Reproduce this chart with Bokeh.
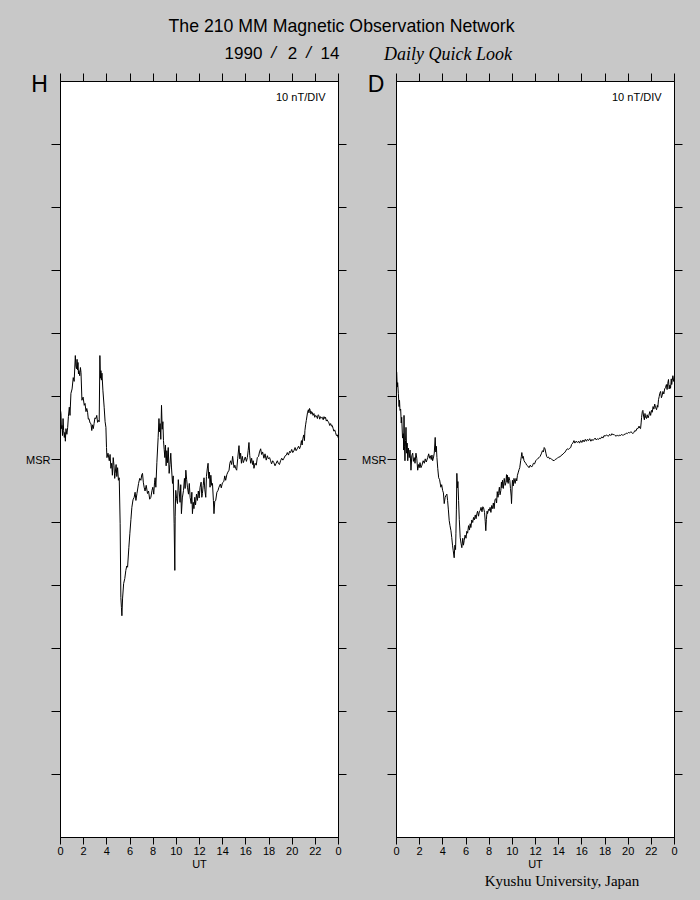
from bokeh.plotting import figure
from bokeh.models import Range1d, LinearAxis, FixedTicker, Label
from bokeh.layouts import column, row
from bokeh.embed import file_html
from bokeh.resources import INLINE

# ---- data (UT hours, nT relative to MSR) ----
H_UT = [0.00, 0.04, 0.08, 0.13, 0.17, 0.22, 0.27, 0.33, 0.38, 0.42, 0.47, 0.55, 0.62, 0.68, 0.76,
        0.82, 0.90, 1.00, 1.10, 1.18, 1.28, 1.33, 1.38, 1.43, 1.47, 1.51, 1.55, 1.59, 1.66, 1.72,
        1.77, 1.85, 1.95, 2.05, 2.12, 2.20, 2.27, 2.34, 2.40, 2.46, 2.55, 2.63, 2.70, 2.76, 2.83,
        2.90, 2.97, 3.06, 3.13, 3.20, 3.29, 3.34, 3.40, 3.45, 3.49, 3.53, 3.58, 3.66, 3.77, 3.85,
        3.92, 3.97, 4.01, 4.10, 4.21, 4.28, 4.35, 4.42, 4.48, 4.55, 4.62, 4.68, 4.72, 4.80, 4.86,
        4.93, 5.00, 5.07, 5.15, 5.21, 5.26, 5.30, 5.36, 5.45, 5.55, 5.64, 5.72, 5.79, 5.90, 5.99,
        6.08, 6.16, 6.26, 6.36, 6.44, 6.51, 6.60, 6.74, 6.84, 6.94, 7.02, 7.08, 7.15, 7.22, 7.30,
        7.40, 7.51, 7.60, 7.70, 7.80, 7.90, 7.97, 8.05, 8.12, 8.17, 8.23, 8.32, 8.43, 8.50, 8.55,
        8.60, 8.66, 8.72, 8.78, 8.84, 8.89, 8.95, 9.01, 9.06, 9.12, 9.18, 9.24, 9.30, 9.38, 9.45,
        9.52, 9.58, 9.67, 9.73, 9.81, 9.87, 9.90, 9.95, 10.02, 10.10, 10.17, 10.24, 10.32, 10.38, 10.44,
        10.52, 10.62, 10.70, 10.76, 10.82, 10.89, 10.96, 11.05, 11.12, 11.19, 11.28, 11.34, 11.39, 11.46, 11.52,
        11.59, 11.66, 11.74, 11.82, 11.90, 11.97, 12.05, 12.14, 12.20, 12.25, 12.32, 12.39, 12.46, 12.54, 12.60,
        12.67, 12.74, 12.80, 12.86, 12.91, 12.98, 13.05, 13.12, 13.20, 13.25, 13.32, 13.40, 13.50, 13.60, 13.68,
        13.80, 13.88, 13.98, 14.10, 14.18, 14.26, 14.36, 14.45, 14.55, 14.62, 14.69, 14.78, 14.86, 14.98, 15.05,
        15.12, 15.21, 15.30, 15.41, 15.48, 15.55, 15.62, 15.70, 15.78, 15.84, 15.95, 16.05, 16.13, 16.20, 16.27,
        16.34, 16.42, 16.50, 16.58, 16.64, 16.70, 16.80, 16.90, 16.99, 17.10, 17.18, 17.28, 17.36, 17.45, 17.56,
        17.66, 17.76, 17.86, 17.95, 18.05, 18.14, 18.22, 18.32, 18.42, 18.52, 18.62, 18.72, 18.80, 18.90, 19.00,
        19.10, 19.20, 19.29, 19.40, 19.50, 19.58, 19.68, 19.78, 19.86, 19.96, 20.05, 20.15, 20.25, 20.34, 20.44,
        20.55, 20.64, 20.73, 20.80, 20.86, 20.92, 21.00, 21.06, 21.10, 21.16, 21.22, 21.28, 21.33, 21.40, 21.45,
        21.50, 21.56, 21.62, 21.68, 21.73, 21.80, 21.88, 21.95, 22.02, 22.10, 22.18, 22.24, 22.30, 22.38, 22.45,
        22.52, 22.60, 22.68, 22.75, 22.82, 22.88, 22.95, 23.02, 23.10, 23.16, 23.24, 23.32, 23.40, 23.46, 23.54,
        23.60, 23.67, 23.74, 23.82, 23.90, 23.97, 24.00]
H_NT = [7.8, 7.3, 4.9, 5.4, 3.8, 6.5, 4.6, 3.5, 4.3, 2.9, 4.9, 4.0, 5.1, 6.8, 8.3,
        7.0, 10.5, 11.2, 13.0, 12.4, 16.5, 14.8, 14.4, 15.9, 14.2, 15.4, 13.6, 14.1, 13.3, 14.6,
        13.8, 9.4, 9.9, 8.6, 8.9, 7.6, 8.1, 7.5, 6.4, 6.5, 5.8, 5.7, 4.6, 5.5, 4.9,
        5.7, 6.6, 6.5, 7.0, 5.9, 6.2, 6.0, 16.5, 12.9, 14.1, 12.6, 13.7, 11.0, 8.3, 6.0,
        5.1, 1.9, 0.3, 1.0, -0.2, 0.8, -1.4, -0.6, -2.5, 0.3, -1.0, -3.0, -2.2, -0.8, -2.7,
        -1.3, -3.3, -2.9, -10.2, -21.9, -23.5, -24.8, -22.0, -19.7, -18.9, -17.6, -16.9, -17.1, -14.0, -11.7,
        -9.5, -7.6, -6.4, -6.0, -5.2, -6.5, -5.4, -3.8, -3.0, -3.3, -2.4, -2.2, -3.6, -4.4, -5.0,
        -4.1, -5.4, -5.0, -6.3, -6.0, -4.9, -4.4, -5.5, -3.6, -2.9, -4.4, -0.5, 3.5, 6.5, 4.4,
        5.7, 3.2, 8.6, 4.8, 6.0, 3.0, 1.6, 0.3, 2.3, -1.0, 1.4, -0.5, 1.9, -2.2, -0.8,
        1.0, -1.2, -3.8, -2.6, -10.2, -17.6, -9.0, -4.9, -6.2, -7.0, -3.2, -4.9, -6.8, -4.0, -8.6,
        -6.1, -4.9, -3.0, -4.6, -1.7, -3.2, -4.4, -5.5, -3.8, -6.0, -7.0, -5.2, -8.6, -6.8, -7.8,
        -6.0, -7.2, -5.5, -6.5, -5.0, -6.1, -4.4, -3.6, -6.0, -5.4, -4.1, -2.9, -4.8, -6.0, -2.7,
        -1.5, -0.6, -3.0, -2.0, -4.4, -2.5, -4.1, -3.8, -6.5, -8.6, -6.6, -6.5, -5.2, -4.9, -4.4,
        -3.9, -4.5, -3.7, -3.5, -2.6, -3.3, -2.4, -2.0, -1.7, -0.6, -0.2, -0.8, 0.5, -1.3, -0.9,
        -1.4, -1.7, 0.2, 2.2, 0.1, 1.0, -0.6, 0.5, -0.5, -0.2, 0.4, -0.3, 0.3, 1.4, 2.7,
        0.6, -0.6, 0.2, -0.8, -0.2, -1.4, -0.6, -0.9, 0.3, 0.5, 1.2, 1.7, 0.8, 1.2, 0.2,
        0.9, -0.1, 0.6, 0.1, 0.3, -0.2, -0.7, -0.2, -0.5, -1.0, -0.6, -0.2, -0.6, -0.8, -0.2,
        0.2, -0.1, 0.2, 0.6, 0.7, 1.1, 0.7, 1.3, 1.1, 1.6, 1.1, 1.4, 1.9, 1.4, 1.7,
        2.1, 1.7, 2.2, 3.0, 2.3, 3.3, 3.9, 3.0, 4.6, 5.5, 6.2, 6.9, 7.5, 7.9, 7.4,
        8.1, 7.8, 7.2, 7.6, 7.5, 7.0, 7.3, 6.7, 7.0, 6.9, 6.5, 7.1, 7.0, 6.4, 6.8,
        6.6, 6.7, 6.3, 6.8, 6.5, 6.7, 6.1, 6.3, 6.0, 5.9, 5.4, 5.7, 5.3, 5.4, 4.9,
        4.5, 4.7, 4.3, 3.8, 3.9, 3.5, 3.4]

D_UT = [0.00, 0.02, 0.06, 0.10, 0.16, 0.22, 0.26, 0.30, 0.36, 0.41, 0.45, 0.52, 0.59, 0.62, 0.65,
        0.69, 0.73, 0.78, 0.82, 0.88, 0.92, 0.97, 1.03, 1.10, 1.17, 1.25, 1.32, 1.40, 1.46, 1.53,
        1.60, 1.68, 1.75, 1.83, 1.90, 1.96, 2.03, 2.11, 2.20, 2.30, 2.40, 2.48, 2.57, 2.69, 2.78,
        2.85, 2.91, 3.00, 3.06, 3.12, 3.20, 3.26, 3.34, 3.39, 3.44, 3.49, 3.56, 3.64, 3.72, 3.83,
        3.90, 3.98, 4.05, 4.12, 4.20, 4.27, 4.35, 4.41, 4.48, 4.55, 4.62, 4.70, 4.77, 4.84, 4.90,
        4.98, 5.04, 5.10, 5.13, 5.17, 5.21, 5.26, 5.30, 5.36, 5.42, 5.50, 5.57, 5.64, 5.72, 5.78,
        5.84, 5.92, 6.00, 6.07, 6.14, 6.22, 6.30, 6.36, 6.42, 6.50, 6.58, 6.65, 6.72, 6.80, 6.87,
        6.94, 7.00, 7.08, 7.15, 7.22, 7.30, 7.38, 7.45, 7.51, 7.60, 7.66, 7.71, 7.76, 7.82, 7.86,
        7.95, 8.02, 8.08, 8.15, 8.22, 8.30, 8.36, 8.43, 8.50, 8.58, 8.64, 8.70, 8.76, 8.81, 8.88,
        8.94, 9.01, 9.06, 9.10, 9.15, 9.22, 9.30, 9.38, 9.44, 9.50, 9.55, 9.58, 9.64, 9.70, 9.78,
        9.84, 9.90, 9.93, 9.97, 10.01, 10.08, 10.14, 10.24, 10.32, 10.38, 10.44, 10.52, 10.58, 10.64, 10.72,
        10.78, 10.82, 10.88, 10.94, 11.01, 11.08, 11.16, 11.24, 11.32, 11.44, 11.55, 11.66, 11.74, 11.82, 11.92,
        12.02, 12.12, 12.22, 12.31, 12.40, 12.50, 12.60, 12.68, 12.75, 12.82, 12.90, 12.96, 13.03, 13.12, 13.22,
        13.31, 13.40, 13.50, 13.60, 13.70, 13.80, 13.89, 14.00, 14.10, 14.18, 14.28, 14.38, 14.46, 14.56, 14.66,
        14.75, 14.85, 14.95, 15.04, 15.12, 15.22, 15.32, 15.40, 15.50, 15.62, 15.72, 15.80, 15.90, 16.00, 16.10,
        16.20, 16.30, 16.40, 16.48, 16.58, 16.68, 16.78, 16.88, 16.96, 17.05, 17.15, 17.25, 17.35, 17.45, 17.55,
        17.62, 17.72, 17.82, 17.92, 18.02, 18.12, 18.20, 18.30, 18.40, 18.50, 18.60, 18.70, 18.77, 18.87, 18.97,
        19.07, 19.17, 19.27, 19.35, 19.45, 19.55, 19.65, 19.75, 19.85, 19.92, 20.02, 20.12, 20.22, 20.32, 20.40,
        20.49, 20.58, 20.66, 20.75, 20.84, 20.94, 21.00, 21.07, 21.12, 21.16, 21.22, 21.27, 21.33, 21.40, 21.45,
        21.50, 21.58, 21.64, 21.72, 21.79, 21.86, 21.94, 22.01, 22.08, 22.15, 22.22, 22.29, 22.36, 22.45, 22.52,
        22.56, 22.62, 22.68, 22.73, 22.80, 22.87, 22.94, 23.00, 23.08, 23.15, 23.22, 23.30, 23.36, 23.42, 23.48,
        23.54, 23.60, 23.66, 23.72, 23.76, 23.80, 23.86, 23.92, 23.97, 24.00]
D_NT = [14.0, 13.8, 11.5, 12.2, 10.5, 8.4, 9.4, 7.8, 8.0, 5.8, 6.7, 3.4, 4.1, 1.5, 7.0,
        2.0, -0.2, 3.0, 5.1, 1.0, 2.6, -0.2, 1.8, 0.3, 1.5, -1.7, 0.6, 1.0, -0.3, 0.3,
        -0.6, 1.0, 0.2, -1.7, -0.8, -1.3, -0.5, -1.3, -0.9, -0.2, -0.6, 0.1, -0.4, 0.3, 0.9,
        0.2, 0.6, 0.0, 0.7, -0.2, 0.4, 1.0, 3.5, 1.2, 2.1, 0.3, -1.4, -2.9, -3.2, -4.4,
        -4.0, -4.9, -5.3, -7.0, -6.0, -5.7, -5.5, -6.5, -8.0, -9.7, -10.5, -11.3, -12.4, -13.7, -14.5,
        -15.6, -13.6, -14.3, -11.7, -8.0, -2.2, -4.5, -3.5, -6.5, -9.5, -12.4, -13.3, -14.0, -12.5, -13.6,
        -12.9, -12.0, -12.5, -11.4, -11.7, -10.5, -11.2, -10.2, -10.8, -9.6, -10.0, -9.2, -9.6, -8.8, -9.4,
        -8.6, -8.2, -9.0, -8.3, -8.1, -7.6, -8.3, -7.5, -7.6, -8.4, -9.8, -11.3, -9.5, -8.2, -8.6,
        -7.9, -8.1, -7.6, -8.4, -7.3, -7.8, -6.9, -7.8, -6.4, -6.2, -6.9, -5.1, -6.0, -5.4, -4.4,
        -5.6, -4.9, -3.6, -4.5, -3.3, -4.6, -3.0, -4.1, -3.7, -2.4, -3.6, -2.5, -3.8, -2.8, -3.3,
        -4.6, -5.8, -7.0, -5.0, -3.3, -4.2, -3.0, -3.8, -3.0, -3.4, -2.5, -2.0, -1.6, -1.3, -0.2,
        0.5, 1.1, 0.2, 0.5, -0.2, -0.4, -0.6, -0.9, -1.0, -1.3, -0.9, -1.2, -1.0, -0.6, -0.7,
        -0.2, 0.0, 0.2, 0.3, 0.5, 0.9, 1.4, 1.2, 1.9, 1.7, 1.0, 0.5, 0.3, 0.4, 0.1,
        0.2, 0.0, -0.1, -0.2, 0.0, 0.1, 0.2, 0.4, 0.4, 0.6, 0.7, 0.9, 1.0, 1.2, 1.5,
        1.7, 1.6, 1.8, 1.9, 2.4, 2.6, 3.0, 2.6, 2.9, 2.7, 2.9, 2.6, 3.0, 2.7, 3.1,
        2.8, 3.2, 2.9, 3.2, 3.0, 3.3, 2.9, 3.2, 3.0, 3.2, 3.4, 3.1, 3.3, 3.2, 3.4,
        3.3, 3.6, 3.4, 3.8, 3.7, 3.9, 3.8, 3.7, 4.0, 3.8, 4.1, 3.9, 4.0, 3.8, 3.7,
        3.9, 3.7, 3.9, 3.8, 4.0, 3.8, 4.0, 4.0, 4.2, 4.1, 4.3, 4.2, 4.4, 4.3, 4.1,
        4.3, 4.6, 4.5, 4.9, 4.9, 5.3, 5.0, 4.9, 5.8, 6.7, 7.6, 7.8, 6.9, 6.3, 7.3,
        6.7, 6.5, 7.1, 6.6, 7.0, 7.6, 7.0, 7.8, 7.5, 8.4, 8.0, 8.8, 8.3, 7.9, 8.6,
        8.3, 9.5, 10.0, 10.5, 10.8, 9.8, 10.2, 10.8, 10.4, 11.2, 11.4, 11.9, 11.1, 12.1, 12.7,
        11.2, 11.8, 11.3, 12.8, 11.9, 12.5, 13.3, 12.4, 12.9, 13.2]

X_TICKS = list(range(0, 25, 2))
Y_TICKS = [-50, -40, -30, -20, -10, 0, 10, 20, 30, 40, 50]

BG = "#c8c8c8"
SANS = "Liberation Sans"
SERIF = "Liberation Serif"

HDR_H = 104          # header strip height (overlaps the panels' top border)
OVERLAP = 34         # how far the panels row is pulled up under the header


def panel(ut, nt, ml, mr):
    p = figure(frame_width=278, frame_height=756, x_range=Range1d(0, 24), y_range=Range1d(-60, 60),
               output_backend="svg", toolbar_location=None,
               min_border_left=ml, min_border_right=mr, min_border_top=11, min_border_bottom=36)
    p.background_fill_color = "white"
    p.border_fill_color = BG
    p.border_fill_alpha = 0.0
    p.outline_line_color = "black"
    p.outline_line_width = 1
    p.grid.visible = False

    xa = p.xaxis[0]
    xa.ticker = FixedTicker(ticks=X_TICKS)
    xa.major_label_overrides = {24: "0"}
    xa.major_tick_out = 7
    xa.major_tick_in = 0
    xa.minor_tick_out = 0
    xa.minor_tick_in = 0
    xa.axis_line_color = "black"
    xa.major_tick_line_color = "black"
    xa.major_label_text_font = SANS
    xa.major_label_text_font_size = "11px"
    xa.major_label_text_color = "black"
    xa.major_label_standoff = 2
    xa.axis_label = "UT"
    xa.axis_label_text_font = SANS
    xa.axis_label_text_font_style = "normal"
    xa.axis_label_text_font_size = "11px"
    xa.axis_label_text_color = "black"
    xa.axis_label_standoff = 0

    ya = p.yaxis[0]
    ya.ticker = FixedTicker(ticks=Y_TICKS)
    ya.major_label_overrides = {t: ("MSR" if t == 0 else "") for t in Y_TICKS}
    ya.major_tick_out = 9
    ya.major_tick_in = 0
    ya.minor_tick_out = 0
    ya.minor_tick_in = 0
    ya.axis_line_color = "black"
    ya.major_label_text_font = SANS
    ya.major_label_text_font_size = "11px"
    ya.major_label_text_color = "black"
    ya.major_label_standoff = 1

    ra = LinearAxis(ticker=FixedTicker(ticks=Y_TICKS),
                    major_label_overrides={t: "" for t in Y_TICKS},
                    major_label_text_font_size="0px", major_label_standoff=0,
                    major_tick_out=8, major_tick_in=0, minor_tick_out=0, minor_tick_in=0,
                    axis_line_color="black")
    p.add_layout(ra, "right")

    ta = LinearAxis(ticker=FixedTicker(ticks=X_TICKS),
                    major_label_overrides={t: "" for t in X_TICKS},
                    major_label_text_font_size="0px", major_label_standoff=0,
                    major_tick_out=8, major_tick_in=0, minor_tick_out=0, minor_tick_in=0,
                    axis_line_color="black")
    p.add_layout(ta, "above")

    p.line(ut, nt, line_color="black", line_width=1)

    p.add_layout(Label(x=22.88, y=57.6, text="10 nT/DIV", text_font=SANS, text_font_size="11px",
                       text_align="right", text_baseline="middle", text_color="black"))
    return p


pH = panel(H_UT, H_NT, 60, 18)
pD = panel(D_UT, D_NT, 40, 26)


def strip(h):
    f = figure(width=700, height=h, x_range=Range1d(0, 700), y_range=Range1d(0, h),
               output_backend="svg", toolbar_location=None, x_axis_location=None,
               y_axis_location=None, min_border=0)
    f.background_fill_color = BG
    f.border_fill_color = BG
    f.outline_line_color = None
    f.grid.visible = False
    return f


hdr = strip(HDR_H)
ftr = strip(27)


def lab(fig, x, y, txt, font=SANS, size="18px", style="normal"):
    fig.add_layout(Label(x=x, y=y, text=txt, text_font=font, text_font_size=size,
                         text_font_style=style, text_align="center", text_baseline="middle",
                         text_color="black"))


# header y values are measured upward from the strip's bottom edge
lab(hdr, 341, HDR_H - 25, "The 210 MM Magnetic Observation Network", size="17.7px")
lab(hdr, 243, HDR_H - 52, "1990", size="17px")
lab(hdr, 273, HDR_H - 52, "/", size="17px", style="italic")
lab(hdr, 292, HDR_H - 52, "2", size="17px")
lab(hdr, 308, HDR_H - 52, "/", size="17px", style="italic")
lab(hdr, 329.5, HDR_H - 52, "14", size="17px")
lab(hdr, 447.5, HDR_H - 53, "Daily Quick Look", font=SERIF, size="18px", style="italic")
lab(hdr, 39, HDR_H - 83.5, "H", size="23px")
lab(hdr, 375.5, HDR_H - 83.5, "D", size="23px")
lab(ftr, 561.5, 20, "Kyushu University, Japan", font=SERIF, size="15px")

panels = row(pH, pD, spacing=0)
panels.margin = (-OVERLAP, 0, 0, 0)

layout = column(hdr, panels, ftr, spacing=0)
layout.background = BG

open("out.html", "w").write(file_html(layout, INLINE))
